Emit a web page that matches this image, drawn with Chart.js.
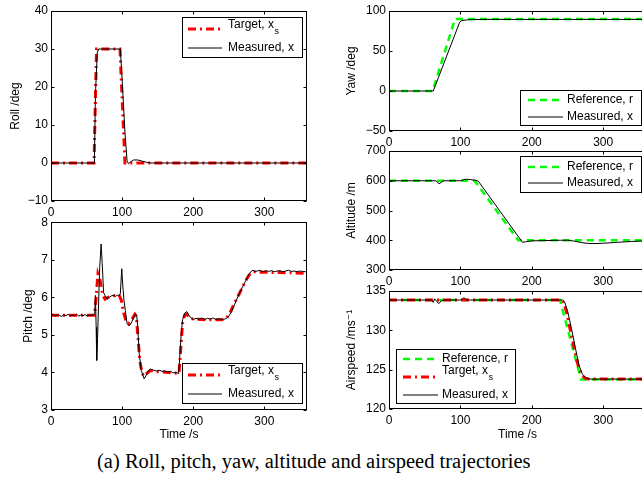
<!DOCTYPE html>
<html><head><meta charset="utf-8">
<script src="https://cdn.jsdelivr.net/npm/chart.js@4.4.1/dist/chart.umd.min.js"></script>
<style>
html,body{margin:0;padding:0;width:642px;height:485px;overflow:hidden;background:#fff;}
canvas{position:absolute;}
#cap{position:absolute;left:97px;top:449px;font-family:"Liberation Serif","Times New Roman",serif;font-size:20.5px;color:#000;white-space:nowrap;line-height:24px;}
</style></head><body>
<div id="cap">(a) Roll, pitch, yaw, altitude and airspeed trajectories</div>
<script>
// ---------- data (time in s, value) ----------
const xTicks = [0, 100, 200, 300];
const rollTicks = [-10, 0, 10, 20, 30, 40];
const pitchTicks = [3, 4, 5, 6, 7, 8];
const yawTicks = [-50, 0, 50, 100];
const altTicks = [300, 400, 500, 600, 700];
const speedTicks = [120, 125, 130, 135];

const rollTarget = [[0,0],[60.5,0],[64,30],[97,30],[104,0],[360,0]];
const rollMeasured = [[0,0],[61,0],[62.5,18],[65,29],[67,30],[97.5,30],[100,22],[104,8],[107,0.5],[109,-0.2],[112,0.3],[116,0.8],[122,0.8],[128,0.5],[134,0.2],[140,0],[360,0]];

const pitchTarget = [[0,5.52],[61,5.52],[63,5.9],[66,6.62],[69,6.45],[73,6.05],[76,5.95],[80,6.0],[90,6.05],[96,6.05],[99,5.92],[102,5.6],[105,5.4],[109,5.3],[114,5.42],[118,5.55],[120,5.5],[122,5.0],[125,4.3],[128,3.98],[131,3.9],[135,3.98],[140,4.05],[150,4.02],[165,4.0],[180,3.97],[182,4.5],[185,5.3],[188,5.52],[191,5.55],[195,5.45],[200,5.42],[220,5.4],[240,5.4],[247,5.45],[252,5.6],[258,5.85],[265,6.1],[272,6.38],[278,6.58],[283,6.68],[295,6.67],[320,6.66],[360,6.64]];
const pitchMeasured = [[0,5.53],[3,5.55],[6,5.5],[9,5.54],[12,5.52],[15,5.49],[18,5.54],[21,5.51],[24,5.55],[27,5.5],[30,5.53],[33,5.51],[36,5.55],[39,5.5],[42,5.53],[45,5.51],[48,5.54],[51,5.5],[54,5.53],[57,5.52],[60,5.54],[61.5,5.55],[62.5,6.05],[63.5,5.2],[64.3,4.32],[65.5,4.9],[67,5.9],[68.5,6.8],[70.5,7.42],[72,6.9],[74,6.12],[76,6.05],[79,5.95],[82,6.0],[85,6.04],[88,6.05],[91,6.03],[94,6.06],[96,6.05],[97.5,6.1],[99.5,6.76],[101,6.3],[102.5,5.95],[104.5,5.65],[107,5.3],[110,5.24],[113,5.32],[116,5.45],[119,5.55],[120.5,5.52],[122,5.2],[124,4.5],[127,4.05],[131,3.83],[134,3.93],[137,4.05],[140,4.09],[144,4.06],[148,4.04],[152,4.06],[156,4.03],[160,4.04],[164,4.01],[168,4.03],[172,3.99],[176,4.0],[179.5,3.97],[181,4.4],[183,5.0],[185,5.4],[188,5.58],[191,5.62],[194,5.52],[197,5.45],[200,5.41],[204,5.44],[208,5.42],[212,5.45],[216,5.41],[220,5.44],[224,5.42],[228,5.45],[232,5.41],[236,5.43],[240,5.41],[244,5.42],[247,5.44],[250,5.5],[254,5.62],[258,5.8],[262,5.98],[266,6.15],[270,6.3],[274,6.45],[278,6.6],[281,6.68],[284,6.72],[287,6.69],[290,6.7],[294,6.72],[298,6.68],[302,6.71],[306,6.69],[310,6.71],[314,6.68],[318,6.7],[322,6.71],[326,6.68],[330,6.7],[334,6.72],[338,6.69],[342,6.7],[346,6.68],[350,6.7],[354,6.69],[358,6.68],[360,6.68]];

const yawReference = [[0,0],[61,0],[92.5,90],[360,90]];
const yawMeasured = [[0,0],[62,0],[99,86],[102,88],[110,89],[130,89.5],[360,89.5]];

const altReference = [[0,600],[120,600],[181,400],[360,400]];
const altMeasured = [[0,600],[65,600],[67,597],[70,590],[73,594],[76,600],[100,600],[104,603],[108,605],[114,604],[120,602],[125,599],[187,393],[192,395],[200,398],[220,399],[240,400],[250,400],[260,397],[270,392],[280,389],[290,389],[300,390],[320,393],[340,396],[360,398]];

const speedReference = [[0,133.85],[239.5,133.85],[269,123.75],[360,123.75]];
const speedTarget = [[0,133.85],[242,133.85],[245,133.5],[249,132.2],[254,130],[260,127.5],[265,125.5],[270,124.3],[275,123.9],[280,123.8],[360,123.8]];
const speedMeasured = [[0,133.85],[60,133.85],[62,133.55],[64,134.0],[67,133.65],[70,133.4],[73,133.75],[78,133.85],[100,133.85],[103,134.0],[105,134.15],[108,133.9],[112,133.85],[243,133.85],[246,133.6],[250,132.5],[255,130.5],[261,127.8],[266,125.6],[271,124.4],[276,123.95],[282,123.8],[360,123.8]];

// ---------- styling ----------
const FONT = '"Liberation Sans", "DejaVu Sans", Arial, sans-serif';
const pts = a => a.map(p => ({x: p[0], y: p[1]}));
const measuredDS = a => ({label: 'Measured, x', data: pts(a), borderColor: '#000', borderWidth: 1, borderDash: []});
const targetDS = a => ({label: 'Target, x', sub: 's', data: pts(a), borderColor: '#ff0000', borderWidth: 3, borderDash: [8, 4, 2, 4]});
const referenceDS = a => ({label: 'Reference, r', data: pts(a), borderColor: '#00ff00', borderWidth: 2.5, borderDash: [7, 5]});

const framePlugin = {
  id: 'frame',
  afterDraw(chart) {
    const {ctx, chartArea: a, scales: {x, y}} = chart;
    ctx.save();
    ctx.strokeStyle = '#000'; ctx.lineWidth = 1; ctx.setLineDash([]);
    const L = Math.round(a.left) + 0.5, R = Math.round(a.right) - 0.5, T = Math.round(a.top) + 0.5, B = Math.round(a.bottom) - 0.5;
    ctx.strokeRect(L, T, R - L, B - T);
    ctx.beginPath();
    const tl = 3;
    x.ticks.forEach(t => { const px = Math.round(x.getPixelForValue(t.value)) + 0.5; ctx.moveTo(px, B); ctx.lineTo(px, B - tl); ctx.moveTo(px, T); ctx.lineTo(px, T + tl); });
    y.ticks.forEach(t => { const py = Math.round(y.getPixelForValue(t.value)) + 0.5; ctx.moveTo(L, py); ctx.lineTo(L + tl, py); ctx.moveTo(R, py); ctx.lineTo(R - tl, py); });
    ctx.stroke();
    ctx.restore();
  }
};

const legendPlugin = {
  id: 'boxLegend',
  afterDraw(chart, args, o) {
    if (!o || !o.rows) return;
    const ctx = chart.ctx, ox = o.ox, oy = o.oy;
    ctx.save();
    const x1 = Math.round(o.box[0] - ox) + 0.5, y1 = Math.round(o.box[1] - oy) + 0.5;
    const x2 = Math.round(o.box[2] - ox) + 0.5, y2 = Math.round(o.box[3] - oy) + 0.5;
    ctx.fillStyle = '#fff'; ctx.fillRect(x1, y1, x2 - x1, y2 - y1);
    ctx.strokeStyle = '#000'; ctx.lineWidth = 1; ctx.setLineDash([]);
    ctx.strokeRect(x1, y1, x2 - x1, y2 - y1);
    o.rows.forEach(r => {
      const ds = chart.data.datasets[r.ds];
      ctx.strokeStyle = ds.borderColor; ctx.lineWidth = ds.borderWidth; ctx.setLineDash(ds.borderDash || []);
      ctx.beginPath(); ctx.moveTo(o.lx[0] - ox, r.ly - oy); ctx.lineTo(o.lx[1] - ox, r.ly - oy); ctx.stroke();
      ctx.setLineDash([]);
      ctx.fillStyle = '#000'; ctx.textBaseline = 'middle'; ctx.textAlign = 'left';
      ctx.font = '12px ' + FONT;
      ctx.fillText(ds.label, o.tx - ox, r.ty - oy);
      if (ds.sub) {
        const w = ctx.measureText(ds.label).width;
        ctx.font = '9px ' + FONT;
        ctx.fillText(ds.sub, o.tx - ox + w + 0.5, r.ty - oy + 7);
      }
    });
    ctx.restore();
  }
};
Chart.register(framePlugin, legendPlugin);

function makeChart(s) {
  const c = document.createElement('canvas');
  c.width = s.cw; c.height = s.ch;
  c.style.left = s.cx + 'px'; c.style.top = s.cy + 'px';
  c.style.width = s.cw + 'px'; c.style.height = s.ch + 'px';
  document.body.appendChild(c);
  const [l, t, r, b] = s.plot;
  const leg = Object.assign({ox: s.cx, oy: s.cy}, s.legend);
  new Chart(c, {
    type: 'line',
    data: {datasets: s.datasets},
    options: {
      responsive: false, animation: false, events: [], devicePixelRatio: 1,
      layout: {autoPadding: false, padding: {top: t - s.cy, right: s.cx + s.cw - r, left: 0, bottom: 0}},
      elements: {point: {radius: 0}, line: {tension: 0, borderCapStyle: 'butt'}},
      plugins: {legend: {display: false}, tooltip: {enabled: false}, boxLegend: leg},
      scales: {
        x: {
          type: 'linear', min: 0, max: 360,
          afterBuildTicks: sc => { sc.ticks = xTicks.map(v => ({value: v})); },
          afterFit: sc => { sc.height = s.cy + s.ch - b; },
          grid: {display: false, drawTicks: false}, border: {display: false},
          ticks: {font: {family: FONT, size: 12}, color: '#000', padding: 4, maxRotation: 0, autoSkip: false},
          title: s.xtitle ? {display: true, text: s.xtitle, font: {family: FONT, size: 12}, color: '#000', padding: {top: 0, bottom: s.xtitlePad}} : {display: false}
        },
        y: {
          type: 'linear', min: s.yticks[0], max: s.yticks[s.yticks.length - 1],
          afterBuildTicks: sc => { sc.ticks = s.yticks.map(v => ({value: v})); },
          afterFit: sc => { sc.width = l - s.cx; },
          grid: {display: false, drawTicks: false}, border: {display: false},
          ticks: {font: {family: FONT, size: 12}, color: '#000', padding: 3, autoSkip: false,
                  callback: v => String(v).replace('-', '\u2212')},
          title: {display: true, text: s.ytitle, font: {family: FONT, size: 12}, color: '#000', padding: {top: s.ytitlePad, bottom: 0}}
        }
      }
    }
  });
}

// Roll
makeChart({cx: 0, cy: 0, cw: 320, ch: 222, plot: [51, 11, 307, 201], yticks: rollTicks,
  ytitle: 'Roll /deg', ytitlePad: 8,
  datasets: [measuredDS(rollMeasured), targetDS(rollTarget)],
  legend: {box: [182, 17, 302, 57], lx: [188, 222], tx: 228, rows: [{ds: 1, ly: 29, ty: 25}, {ds: 0, ly: 48, ty: 48}]}});
// Pitch
makeChart({cx: 0, cy: 212, cw: 320, ch: 233, plot: [51, 221, 307, 410], yticks: pitchTicks,
  ytitle: 'Pitch /deg', ytitlePad: 21, xtitle: 'Time /s', xtitlePad: 3,
  datasets: [measuredDS(pitchMeasured), targetDS(pitchTarget)],
  legend: {box: [182, 363, 302, 403], lx: [188, 222], tx: 228, rows: [{ds: 1, ly: 375, ty: 371}, {ds: 0, ly: 394, ty: 394}]}});
// Yaw
makeChart({cx: 320, cy: 0, cw: 340, ch: 150, plot: [389, 11, 646, 131], yticks: yawTicks,
  ytitle: 'Yaw /deg', ytitlePad: 24,
  datasets: [measuredDS(yawMeasured), referenceDS(yawReference)],
  legend: {box: [520, 90, 641, 125], lx: [528, 563], tx: 567, rows: [{ds: 1, ly: 100, ty: 100}, {ds: 0, ly: 117, ty: 117}]}});
// Altitude
makeChart({cx: 320, cy: 140, cw: 340, ch: 150, plot: [389, 151, 646, 270], yticks: altTicks,
  ytitle: 'Altitude /m', ytitlePad: 24,
  datasets: [measuredDS(altMeasured), referenceDS(altReference)],
  legend: {box: [520, 156, 641, 192], lx: [528, 563], tx: 567, rows: [{ds: 1, ly: 167, ty: 167}, {ds: 0, ly: 183, ty: 183}]}});
// Airspeed
makeChart({cx: 320, cy: 280, cw: 340, ch: 165, plot: [389, 291, 646, 409], yticks: speedTicks,
  ytitle: 'Airspeed /ms\u207B\u00B9', ytitlePad: 24, xtitle: 'Time /s', xtitlePad: 3,
  datasets: [measuredDS(speedMeasured), targetDS(speedTarget), referenceDS(speedReference)],
  legend: {box: [396, 349, 515, 403], lx: [403, 438], tx: 442, rows: [{ds: 2, ly: 359, ty: 359}, {ds: 1, ly: 377, ty: 371}, {ds: 0, ly: 395, ty: 395}]}});
</script>
</body></html>
